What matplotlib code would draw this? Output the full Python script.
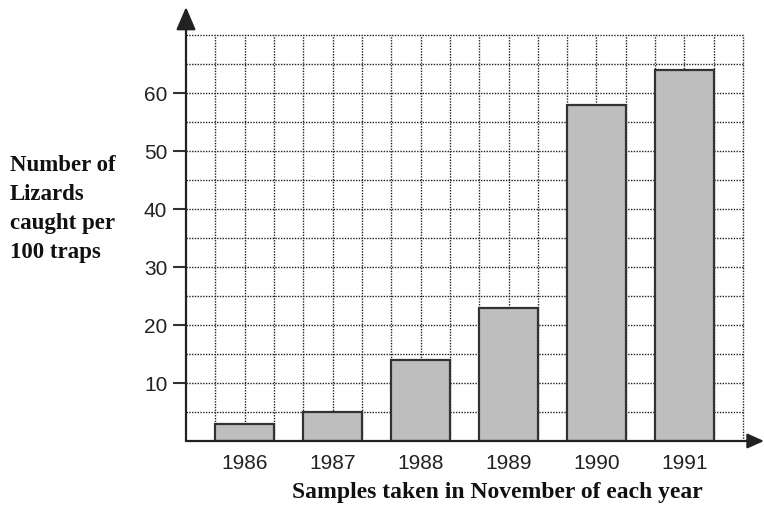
import numpy as np
import matplotlib.pyplot as plt

years = ['1986', '1987', '1988', '1989', '1990', '1991']
lizards = [3, 5, 14, 23, 58, 64]
yticks = [10, 20, 30, 40, 50, 60]

# each bar is two grid cells wide with a one cell gap
left_edges = np.arange(len(years)) * 3 + 1
centers = left_edges + 1

W, H = 764, 506
fig = plt.figure(figsize=(W / 100, H / 100), dpi=100)
ax = fig.add_axes([186 / W, 64 / H, 578 / W, 434 / H])
ax.set_xlim(0, 578 / 29.32)
ax.set_ylim(0, 434 / 5.8)

dots = (0, (1, 1))
ax.hlines(np.arange(5, 71, 5), 0, 19, colors='#222222', linestyles=dots, lw=1.0, zorder=1)
ax.vlines(np.arange(1, 20), 0, 70, colors='#222222', linestyles=dots, lw=1.0, zorder=1)

ax.bar(left_edges, lizards, width=2, align='edge', color='#bebebe',
       edgecolor='#333333', linewidth=1.6, zorder=3)

for s in ax.spines.values():
    s.set_visible(False)

# axes drawn as arrows
ax.annotate('', xy=(0, 1), xytext=(0, 0), xycoords='axes fraction',
            arrowprops=dict(arrowstyle='-|>,head_length=1.4,head_width=0.6',
                            mutation_scale=10, color='#222222', lw=1.6,
                            shrinkA=0, shrinkB=0), annotation_clip=False, zorder=5)
ax.annotate('', xy=(1, 0), xytext=(0, 0), xycoords='axes fraction',
            arrowprops=dict(arrowstyle='-|>,head_length=1.0,head_width=0.45',
                            mutation_scale=10, color='#222222', lw=1.6,
                            shrinkA=0, shrinkB=0), annotation_clip=False, zorder=5)

ax.set_yticks(yticks)
ax.set_yticklabels([str(v) for v in yticks], fontfamily='Liberation Sans',
                   fontsize=15, color='#222222')
ax.tick_params(axis='y', direction='out', length=9.5, width=1.5, color='#333333', pad=4)

ax.set_xticks(centers)
ax.set_xticklabels(years, fontfamily='Liberation Sans', fontsize=15, color='#222222')
ax.tick_params(axis='x', length=0, pad=9)

fig.text(10 / W, 1 - 155 / H, 'Number of\nLizards\ncaught per\n100 traps',
         fontfamily='Liberation Serif', fontweight='bold', fontsize=16.5,
         ha='left', va='top', linespacing=1.5, color='#111111')
fig.text(497 / W, 1 - 498 / H, 'Samples taken in November of each year',
         fontfamily='Liberation Serif', fontweight='bold', fontsize=17,
         ha='center', va='baseline', color='#111111')

fig.savefig('out.png', dpi=100)
